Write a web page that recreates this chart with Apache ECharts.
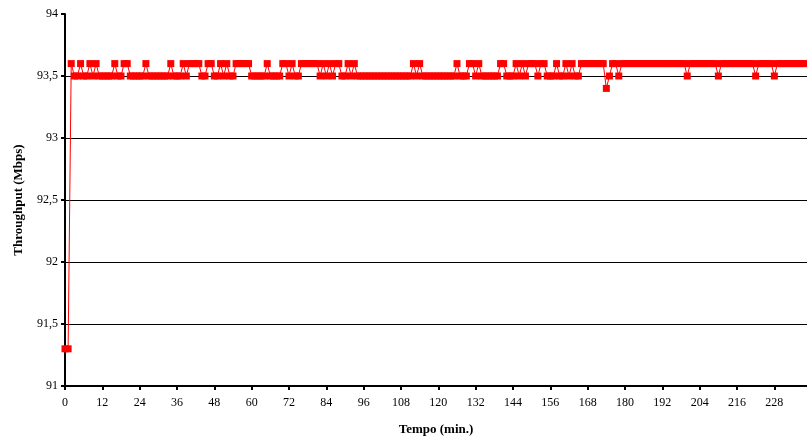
<!DOCTYPE html>
<html>
<head>
<meta charset="utf-8">
<script src="https://cdn.jsdelivr.net/npm/echarts@6/dist/echarts.min.js"></script>
<style>
html,body{margin:0;padding:0;background:#fff;}
#c{width:807px;height:441px;}
</style>
</head>
<body>
<div id="c"></div>
<script>
// Minutes 0..238 (one sample per minute)
var minutes = [];
for (var i = 0; i <= 238; i++) minutes.push(i);

// Throughput (Mbps)
var throughput = [
  91.3, 91.3, 93.6, 93.5, 93.5, 93.6, 93.5, 93.5, 93.6, 93.5,
  93.6, 93.5, 93.5, 93.5, 93.5, 93.5, 93.6, 93.5, 93.5, 93.6,
  93.6, 93.5, 93.5, 93.5, 93.5, 93.5, 93.6, 93.5, 93.5, 93.5,
  93.5, 93.5, 93.5, 93.5, 93.6, 93.5, 93.5, 93.5, 93.6, 93.5,
  93.6, 93.6, 93.6, 93.6, 93.5, 93.5, 93.6, 93.6, 93.5, 93.5,
  93.6, 93.5, 93.6, 93.5, 93.5, 93.6, 93.6, 93.6, 93.6, 93.6,
  93.5, 93.5, 93.5, 93.5, 93.5, 93.6, 93.5, 93.5, 93.5, 93.5,
  93.6, 93.6, 93.5, 93.6, 93.5, 93.5, 93.6, 93.6, 93.6, 93.6,
  93.6, 93.6, 93.5, 93.6, 93.5, 93.6, 93.5, 93.6, 93.6, 93.5,
  93.5, 93.6, 93.5, 93.6, 93.5, 93.5, 93.5, 93.5, 93.5, 93.5,
  93.5, 93.5, 93.5, 93.5, 93.5, 93.5, 93.5, 93.5, 93.5, 93.5,
  93.5, 93.5, 93.6, 93.5, 93.6, 93.5, 93.5, 93.5, 93.5, 93.5,
  93.5, 93.5, 93.5, 93.5, 93.5, 93.5, 93.6, 93.5, 93.5, 93.5,
  93.6, 93.6, 93.5, 93.6, 93.5, 93.5, 93.5, 93.5, 93.5, 93.5,
  93.6, 93.6, 93.5, 93.5, 93.5, 93.6, 93.5, 93.6, 93.5, 93.6,
  93.6, 93.6, 93.5, 93.6, 93.6, 93.5, 93.5, 93.5, 93.6, 93.5,
  93.5, 93.6, 93.5, 93.6, 93.5, 93.5, 93.6, 93.6, 93.6, 93.6,
  93.6, 93.6, 93.6, 93.6, 93.4, 93.5, 93.6, 93.6, 93.5, 93.6,
  93.6, 93.6, 93.6, 93.6, 93.6, 93.6, 93.6, 93.6, 93.6, 93.6,
  93.6, 93.6, 93.6, 93.6, 93.6, 93.6, 93.6, 93.6, 93.6, 93.6,
  93.5, 93.6, 93.6, 93.6, 93.6, 93.6, 93.6, 93.6, 93.6, 93.6,
  93.5, 93.6, 93.6, 93.6, 93.6, 93.6, 93.6, 93.6, 93.6, 93.6,
  93.6, 93.6, 93.5, 93.6, 93.6, 93.6, 93.6, 93.6, 93.5, 93.6,
  93.6, 93.6, 93.6, 93.6, 93.6, 93.6, 93.6, 93.6, 93.6
];

var xTitle = 'Tempo (min.)';
var yTitle = 'Throughput (Mbps)';

var pairs = minutes.map(function (m, i) { return [m, throughput[i]]; });

var chart = echarts.init(document.getElementById('c'), null, {renderer: 'canvas'});
var font = '"Liberation Serif", "Times New Roman", serif';
chart.setOption({
  animation: false,
  backgroundColor: '#ffffff',
  grid: {left: 65, right: 0, top: 14, bottom: 52, containLabel: false},
  xAxis: {
    type: 'value',
    min: 0, max: 238.5, interval: 12,
    name: xTitle, nameLocation: 'middle', nameGap: 37,
    nameTextStyle: {fontFamily: font, fontWeight: 'bold', fontSize: 13, color: '#000'},
    axisLine: {show: true, onZero: false, lineStyle: {color: '#000', width: 2}},
    axisTick: {show: true, length: 4, lineStyle: {color: '#000', width: 2}},
    axisLabel: {fontFamily: font, fontSize: 12, color: '#000', margin: 11, showMaxLabel: false},
    splitLine: {show: false}
  },
  yAxis: {
    type: 'value',
    min: 91, max: 94, interval: 0.5,
    name: yTitle, nameLocation: 'middle', nameGap: 40,
    nameTextStyle: {fontFamily: font, fontWeight: 'bold', fontSize: 13, color: '#000'},
    axisLine: {show: true, lineStyle: {color: '#000', width: 2}},
    axisTick: {show: true, length: 4, lineStyle: {color: '#000', width: 2}},
    axisLabel: {fontFamily: font, fontSize: 12, color: '#000', margin: 7,
      formatter: function (v) { return String(v).replace('.', ','); }},
    splitLine: {show: true, lineStyle: {color: ['#000', '#000', '#000', '#000', '#000', '#000', 'rgba(0,0,0,0)'], width: 1}}
  },
  series: [{
    type: 'line',
    data: pairs,
    symbol: 'rect',
    symbolSize: 7,
    showSymbol: true,
    lineStyle: {color: '#ff0000', width: 1},
    itemStyle: {color: '#ff0000'},
    clip: true
  }]
});
</script>
</body>
</html>
